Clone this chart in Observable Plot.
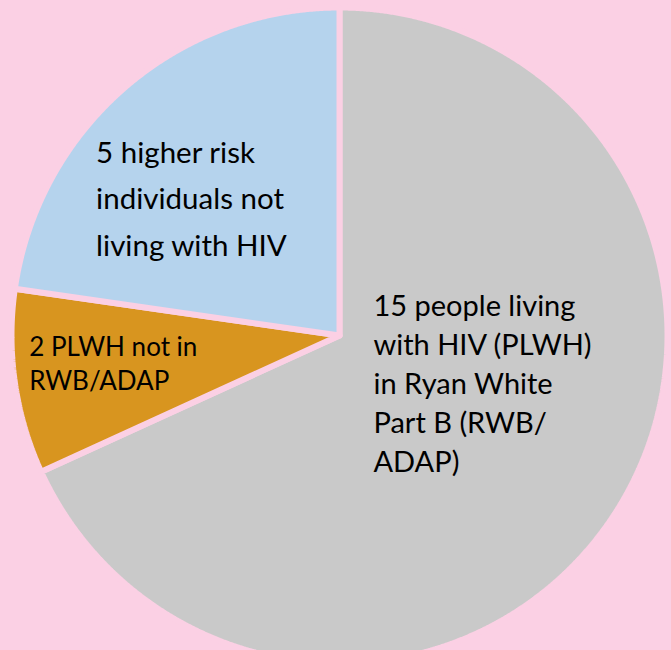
<!DOCTYPE html>
<html>
<head>
<meta charset="utf-8">
<script src="https://cdn.jsdelivr.net/npm/d3@7"></script>
<script src="https://cdn.jsdelivr.net/npm/@observablehq/plot@0.6"></script>
<style>
  html, body { margin: 0; padding: 0; background: #fbd0e4; overflow: hidden; }
  #chart svg { display: block; }
</style>
</head>
<body>
<div id="chart"></div>
<script>
// ---- data ----
const keys = ["PLWH in RWB/ADAP", "PLWH not in RWB/ADAP", "Higher risk, not living with HIV"];
const values = [15, 2, 5];
const labels = [
  "15 people living\nwith HIV (PLWH)\nin Ryan White\nPart B (RWB/\nADAP)",
  "2 PLWH not in\nRWB/ADAP",
  "5 higher risk\nindividuals not\nliving with HIV"
];
const colors = ["#c9c9c9", "#d8951f", "#b5d3ed"];

// ---- layout/style ----
const W = 671, H = 650;
const cx = 339, cy = 335, R = 328;
const bg = "#fbd0e4";
const labelStyle = [
  {fontSize: 29, lineHeight: 1.345, dx: -104, dy: -43},
  {fontSize: 26, lineHeight: 1.31, dx: -148, dy: 3},
  {fontSize: 29.5, lineHeight: 1.57, dx: -136, dy: -17}
];

const rows = keys.map((k, i) => ({key: k, value: values[i], label: labels[i]}));
const arcs = d3.pie().sort(null).value(d => d.value)(rows);

// polygon points for each slice (data coords, unit circle, y up)
const pts = [];
for (const a of arcs) {
  const k = a.data.key;
  pts.push({key: k, x: 0, y: 0});
  const n = Math.max(2, Math.ceil((a.endAngle - a.startAngle) / 0.004));
  for (let j = 0; j <= n; j++) {
    const t = a.startAngle + (a.endAngle - a.startAngle) * j / n;
    pts.push({key: k, x: Math.sin(t), y: Math.cos(t)});
  }
  pts.push({key: k, x: 0, y: 0});
}
const cents = arcs.map(a => {
  const m = (a.startAngle + a.endAngle) / 2;
  return {key: a.data.key, label: a.data.label, x: 0.5 * Math.sin(m), y: 0.5 * Math.cos(m)};
});

const chart = Plot.plot({
  width: W,
  height: H,
  margin: 0,
  style: {background: bg, fontFamily: "Lato, 'Open Sans', sans-serif", overflow: "hidden"},
  x: {domain: [-1, 1], range: [cx - R, cx + R], axis: null},
  y: {domain: [-1, 1], range: [cy + R, cy - R], axis: null},
  color: {domain: keys, range: colors},
  marks: [
    Plot.line(pts, {x: "x", y: "y", z: "key", fill: "key", stroke: bg, strokeWidth: 6, curve: "linear", strokeLinejoin: "miter"}),
    ...cents.map((c, i) => Plot.text([c], {
      x: "x", y: "y", text: "label",
      textAnchor: "start", lineAnchor: "middle",
      lineHeight: labelStyle[i].lineHeight,
      dx: labelStyle[i].dx, dy: labelStyle[i].dy,
      fontSize: labelStyle[i].fontSize, fill: "#000"
    }))
  ]
});
document.getElementById("chart").append(chart);
</script>
</body>
</html>
